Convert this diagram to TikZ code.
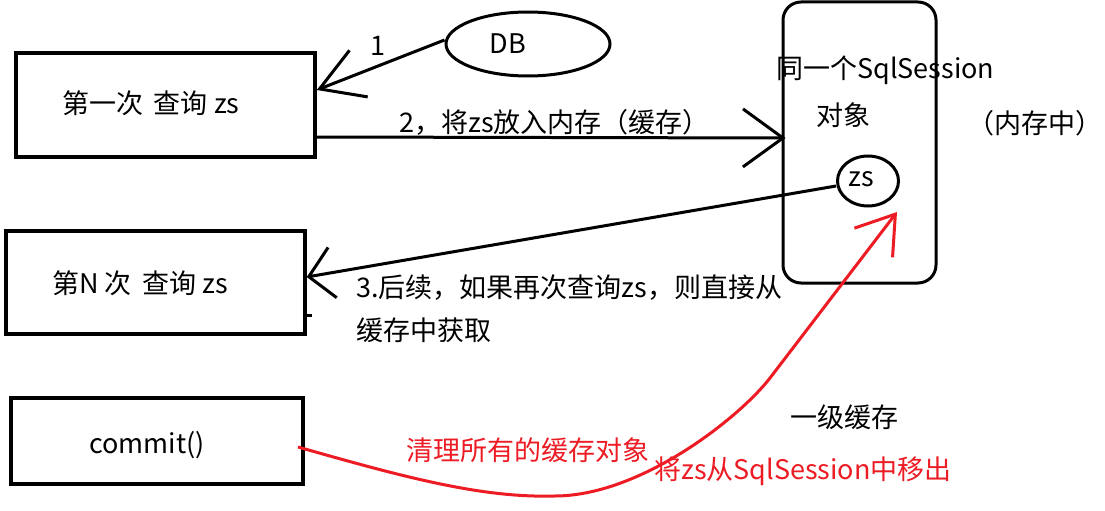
\documentclass[tikz,border=0pt]{standalone}
\usepackage{fontspec}
\setmainfont{Noto Sans CJK SC}
\usetikzlibrary{shapes.geometric,arrows.meta}
\definecolor{myred}{RGB}{237,28,36}
\begin{document}
\begin{tikzpicture}[x=1pt,y=-1pt,
  every node/.style={font=\fontsize{27}{32}\selectfont},
  box/.style={draw,line width=3.5pt,rectangle,inner sep=0pt},
  lbl/.style={inner sep=0pt,anchor=west},
  conn/.style={line width=3pt},
  barbA/.style={-{Straight Barb[length=42pt,width=50pt,line width=3pt]}},
  barbB/.style={-{Straight Barb[length=40pt,width=58pt,line width=3pt]}},
  barbC/.style={-{Straight Barb[length=24pt,width=51pt,line width=3pt]}},
  barbD/.style={-{Straight Barb[length=36pt,width=48pt,line width=3pt]}}]
\useasboundingbox[fill=white] (0,0) rectangle (1105,511);

% boxes
\node[box,minimum width=299pt,minimum height=104pt] (q1) at (165.5,105) {};
\node[box,minimum width=299pt,minimum height=103pt] (q2) at (155.5,282.5) {};
\node[box,minimum width=292pt,minimum height=86pt] (cm) at (157,441) {};
\node[draw,line width=3pt,ellipse,minimum width=164pt,minimum height=64pt,inner sep=0pt] (DB) at (528,44) {};
\node[draw,line width=3pt,rounded corners=18pt,minimum width=153pt,minimum height=281pt,inner sep=0pt] (sess) at (859.5,142.5) {};
\node[draw,line width=3pt,ellipse,minimum width=61pt,minimum height=50pt,inner sep=0pt] (zs) at (868,181) {};

% texts
\node[lbl] (t1) at (62,103) {第一次\hspace{0.4em}查询 zs};
\node[lbl] (t2) at (52,283) {第N 次\hspace{0.4em}查询 zs};
\node[lbl] (t3) at (89,445) {commit()};
\node (tDB) at (508,44) {DB};
\node (tzs) at (861,179) {zs};
\node (l1) at (378,46) {1};
\node[lbl] (l2) at (399,122) {2，将zs放入内存（缓存）};
\node[lbl] (l3a) at (356,288) {3.后续，如果再次查询zs，则直接从};
\node[lbl] (l3b) at (356,330) {缓存中获取};
\node[lbl] (s1) at (776,70) {同一个SqlSession};
\node[lbl] (s2) at (816,115) {对象};
\node[inner sep=0pt,anchor=east] (s3) at (1103,123) {（内存中）};
\node[lbl] (s4) at (790,417) {一级缓存};
\node[lbl,text=myred] (r1) at (406,450) {清理所有的缓存对象};
\node[lbl,text=myred] (r2) at (654,471) {将zs从SqlSession中移出};

% connectors
\draw[conn,barbA] ([yshift=4pt]DB.west) -- ([yshift=15pt]q1.east);
\draw[conn,barbB] ([yshift=-32pt]q1.east) -- ([yshift=4.5pt,xshift=4pt]sess.west);
\draw[conn,barbC] ([yshift=-5pt]zs.west) -- ([yshift=5.5pt]q2.east);
\draw[line width=3pt] ([yshift=-33pt]q2.east) -- ++(5,0);

\coordinate (c0) at (298,447);
\coordinate (ctip) at (897,212);
\draw[line width=3pt,draw=myred,barbD] (c0) .. controls (400,476) and (480,498) .. (553,496)
  .. controls (640,497) and (740,417) .. (770,378) -- (ctip);
\end{tikzpicture}
\end{document}
